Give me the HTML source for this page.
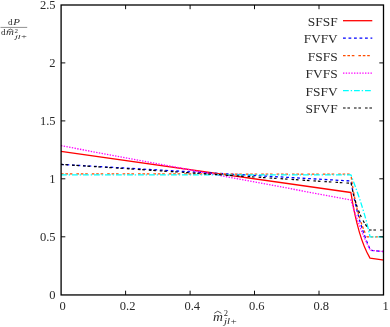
<!DOCTYPE html>
<html>
<head>
<meta charset="utf-8">
<style>
html,body{margin:0;padding:0;background:#fff;}
body{width:390px;height:327px;overflow:hidden;font-family:"Liberation Serif",serif;}
svg{display:block;will-change:transform;}
.txt{filter:grayscale(1);}
text{font-family:"Liberation Serif",serif;fill:#2a2a2a;}
.t{font-size:12.5px;}
.it{font-style:italic;}
</style>
</head>
<body>
<svg width="390" height="327" viewBox="0 0 390 327">
<rect x="0" y="0" width="390" height="327" fill="#fff"/>

<!-- curves -->
<g fill="none" stroke-width="1.3" stroke-linejoin="round">
  <!-- SFSF red -->
  <path d="M61,151.4 L350.9,192.5 Q358,238 370,258.1 L384,260.2" stroke="#ff0000"/>
  <!-- FVFV blue -->
  <path d="M61,164.4 L351,181 Q357.9,222.7 370.5,250.3 L384,251.6" stroke="#0000ff" stroke-dasharray="2.8 2.7"/>
  <!-- FSFS orange -->
  <path d="M61,173.8 L350.9,174.2 Q356,214.8 367,236.8 L384,236.8" stroke="#ff4d00" stroke-dasharray="2.6 1.8 2.6 1.8 2.6 4"/>
  <!-- FVFS magenta -->
  <path d="M61,145.7 L350.9,200 Q359.9,230.4 370.5,250.3 L384,251.6" stroke="#ff00ff" stroke-dasharray="1.4 1.35"/>
  <!-- FSFV cyan -->
  <path d="M61,174.9 L350.9,174.8 Q364.8,210.7 370,236.8 L384,236.8" stroke="#00ffff" stroke-dasharray="5.8 1.9 1.4 1.9"/>
  <!-- SFVF black -->
  <path d="M61,164.4 L351.2,183.3 Q357,215.1 369.4,230 L384,230" stroke="#000" stroke-width="1.2" stroke-dasharray="2.6 1.8 2.6 4"/>
</g>

<!-- legend samples -->
<g fill="none" stroke-width="1.3">
  <path d="M343,20.7 H372.3" stroke="#ff0000"/>
  <path d="M343,38.2 H372.3" stroke="#0000ff" stroke-dasharray="2.8 2.7"/>
  <path d="M343,55.7 H372.3" stroke="#ff4d00" stroke-dasharray="2.6 1.8 2.6 1.8 2.6 4"/>
  <path d="M343,73.1 H372.3" stroke="#ff00ff" stroke-dasharray="1.4 1.35"/>
  <path d="M343,90.6 H372.3" stroke="#00ffff" stroke-dasharray="5.8 1.9 1.4 1.9"/>
  <path d="M343,108 H372.3" stroke="#000" stroke-width="1.2" stroke-dasharray="2.6 1.8 2.6 4"/>
</g>

<!-- frame and ticks -->
<g fill="none" stroke="#000" stroke-width="1.3">
  <rect x="61.1" y="5" width="322.4" height="289.95"/>
  <g stroke-width="0.95">
  <!-- x ticks bottom -->
  <path d="M125.6,294.9 v-4.2 M190.1,294.9 v-4.2 M254.5,294.9 v-4.2 M319,294.9 v-4.2"/>
  <!-- x ticks top -->
  <path d="M125.6,5 v4.2 M190.1,5 v4.2 M254.5,5 v4.2 M319,5 v4.2"/>
  <!-- y ticks left -->
  <path d="M61.1,236.8 h4.2 M61.1,178.8 h4.2 M61.1,120.9 h4.2 M61.1,62.9 h4.2"/>
  <!-- y ticks right -->
  <path d="M383.5,236.8 h-4.2 M383.5,178.8 h-4.2 M383.5,120.9 h-4.2 M383.5,62.9 h-4.2"/>
  </g>
</g>

<g class="txt">
<!-- y tick labels -->
<g class="t" text-anchor="end">
  <text x="55.6" y="9">2.5</text>
  <text x="55.6" y="67">2</text>
  <text x="55.6" y="125">1.5</text>
  <text x="55.6" y="183">1</text>
  <text x="55.6" y="241">0.5</text>
  <text x="55.6" y="299">0</text>
</g>
<!-- x tick labels -->
<g class="t" text-anchor="middle">
  <text x="62.6" y="310.4">0</text>
  <text x="127.6" y="310.4">0.2</text>
  <text x="192.2" y="310.4">0.4</text>
  <text x="256.8" y="310.4">0.6</text>
  <text x="321.3" y="310.4">0.8</text>
  <text x="385.5" y="310.4">1</text>
</g>

<!-- legend labels -->
<g text-anchor="end" font-size="13.3">
  <text x="337.6" y="25.6" textLength="29.8" lengthAdjust="spacingAndGlyphs">SFSF</text>
  <text x="337.6" y="43.1" textLength="33.8" lengthAdjust="spacingAndGlyphs">FVFV</text>
  <text x="337.6" y="60.6" textLength="29.8" lengthAdjust="spacingAndGlyphs">FSFS</text>
  <text x="337.6" y="78.0" textLength="32" lengthAdjust="spacingAndGlyphs">FVFS</text>
  <text x="337.6" y="95.5" textLength="32" lengthAdjust="spacingAndGlyphs">FSFV</text>
  <text x="337.6" y="112.9" textLength="32" lengthAdjust="spacingAndGlyphs">SFVF</text>
</g>

<!-- x label -->
<g>
  <text x="213" y="320.8" class="it" font-size="12" textLength="9.9" lengthAdjust="spacingAndGlyphs">m</text>
  <path d="M214.3,313.3 L217.8,311.2 L221.3,313.3" fill="none" stroke="#222" stroke-width="0.75"/>
  <text x="223.8" y="316" font-size="8.5">2</text>
  <text x="224" y="323.9" class="it" font-size="8.5" textLength="13.2" lengthAdjust="spacingAndGlyphs">jl+</text>
</g>

<!-- y label -->
<g>
  <text x="8.1" y="25.4" font-size="9.2">d</text>
  <text x="13.3" y="25.4" font-size="9.2" class="it" textLength="6.7" lengthAdjust="spacingAndGlyphs">P</text>
  <path d="M0.5,27.4 H27.2" stroke="#444" stroke-width="0.6" fill="none"/>
  <text x="0.9" y="35.2" font-size="9.2">d</text>
  <text x="6" y="35.2" font-size="9.2" class="it" textLength="7.9" lengthAdjust="spacingAndGlyphs">m</text>
  <path d="M7.5,30.5 L10.4,29.1 L13.3,30.5" fill="none" stroke="#222" stroke-width="0.7"/>
  <text x="14.6" y="32.9" font-size="7">2</text>
  <text x="14.9" y="39" class="it" font-size="6.6" textLength="12.5" lengthAdjust="spacingAndGlyphs">jl+</text>
</g>
</g>
</svg>
</body>
</html>
